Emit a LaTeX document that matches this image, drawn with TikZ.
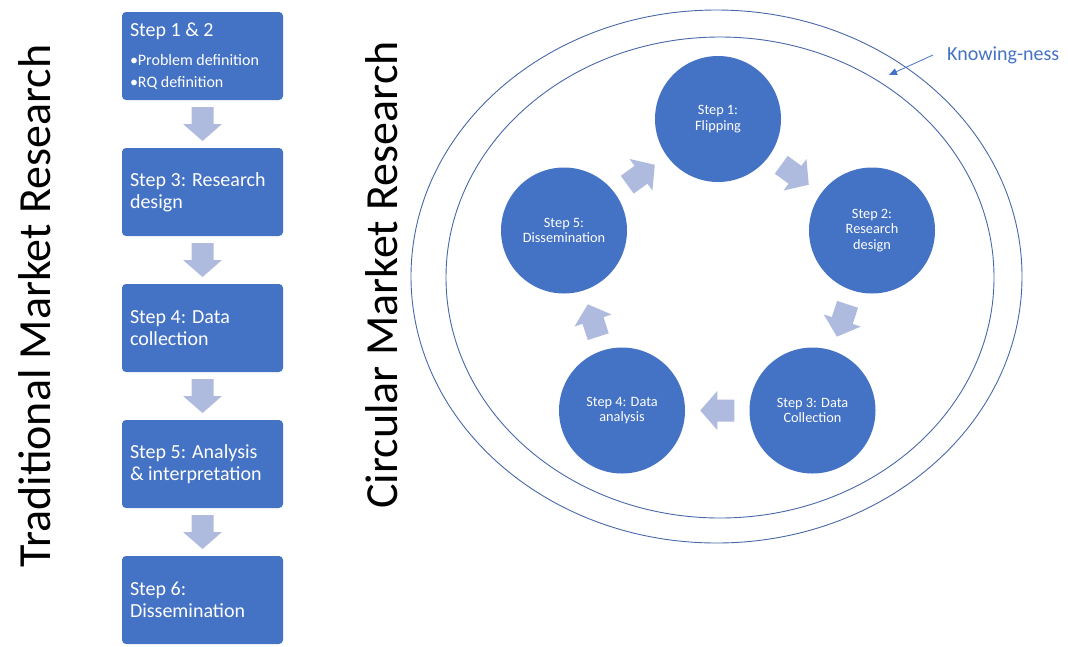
\documentclass[tikz,border=0pt]{standalone}
\usepackage{fontspec}
\setmainfont{Carlito}
\usetikzlibrary{arrows.meta,calc}
\definecolor{boxblue}{RGB}{68,114,196}
\definecolor{arrowblue}{RGB}{175,187,222}
\definecolor{ringblue}{RGB}{72,104,168}
\definecolor{labelblue}{RGB}{68,114,196}
\tikzset{
  stepbox/.style={fill=boxblue, rounded corners=4pt, minimum width=161pt,
    minimum height=88pt, text=white, align=flush left, text width=145pt,
    inner sep=0pt, font=\fontsize{20}{22}\selectfont},
  stepcircle/.style={circle, fill=boxblue, minimum size=126pt, text=white,
    align=center, inner sep=0pt, font=\fontsize{14.3}{15.8}\selectfont},
  ring/.style={draw=ringblue, line width=0.9pt},
  bigtitle/.style={rotate=90, inner sep=0pt, font=\fontsize{46}{50}\selectfont},
  barrow/.pic={\fill[arrowblue] (-17,-11) -- (0,-11) -- (0,-19.5) -- (17,0)
      -- (0,19.5) -- (0,11) -- (-17,11) -- cycle;}
}
\begin{document}
\begin{tikzpicture}[x=1pt,y=-1pt]
\useasboundingbox (0,0) rectangle (1068,646);

% titles
\node[bigtitle] (trad) at (35,306) {Traditional Market Research};
\node[bigtitle] (circ) at (382,275) {Circular Market Research};

% traditional boxes
\node[stepbox] (b1) at (202.5,56) {Step 1 \& 2\\[9.5pt]\fontsize{16}{19.5}\selectfont •Problem definition\\•RQ definition};
\node[stepbox] (b2) at (202.5,192) {Step 3: Research\\design};
\node[stepbox] (b3) at (202.5,328) {Step 4: Data\\collection};
\node[stepbox] (b4) at (202.5,464) {Step 5: Analysis\\\& interpretation};
\node[stepbox] (b5) at (202.5,600) {Step 6:\\Dissemination};

\pic[rotate=-90] at ($(b1.south)!0.5!(b2.north)$) {barrow};
\pic[rotate=-90] at ($(b2.south)!0.5!(b3.north)$) {barrow};
\pic[rotate=-90] at ($(b3.south)!0.5!(b4.north)$) {barrow};
\pic[rotate=-90] at ($(b4.south)!0.5!(b5.north)$) {barrow};

% rings
\draw[ring] (716.5,276.5) ellipse [x radius=305.5pt, y radius=266.5pt];
\draw[ring] (720,277.5) ellipse [x radius=274pt, y radius=240.5pt];

% cycle
\node[stepcircle] (s1) at (718,119) {Step 1:\\Flipping};
\node[stepcircle] (s2) at (872,230.5) {Step 2:\\Research\\design};
\node[stepcircle] (s3) at (812.5,410.5) {Step 3: Data\\Collection};
\node[stepcircle] (s4) at (622,410.5) {Step 4: Data\\analysis};
\node[stepcircle] (s5) at (564,230.5) {Step 5:\\Dissemination};

\pic[rotate=-35.9] at ($(s1)!0.5!(s2)$) {barrow};
\pic[rotate=-108.3] at ($(s2)!0.5!(s3)$) {barrow};
\pic[rotate=180] at ($(s3)!0.5!(s4)$) {barrow};
\pic[rotate=107.9] at ($(s4)!0.5!(s5)$) {barrow};
\pic[rotate=35.9] at ($(s5)!0.5!(s1)$) {barrow};

% knowing-ness label
\node[anchor=west, inner sep=0pt, text=labelblue, font=\fontsize{20}{24}\selectfont] (kn) at (947,55) {Knowing-ness};
\coordinate (kntip) at (889,75);
\draw[labelblue, line width=0.8pt, -{Triangle[length=8pt,width=7pt]}] ([xshift=-14pt]kn.west) -- (kntip);
\end{tikzpicture}
\end{document}
